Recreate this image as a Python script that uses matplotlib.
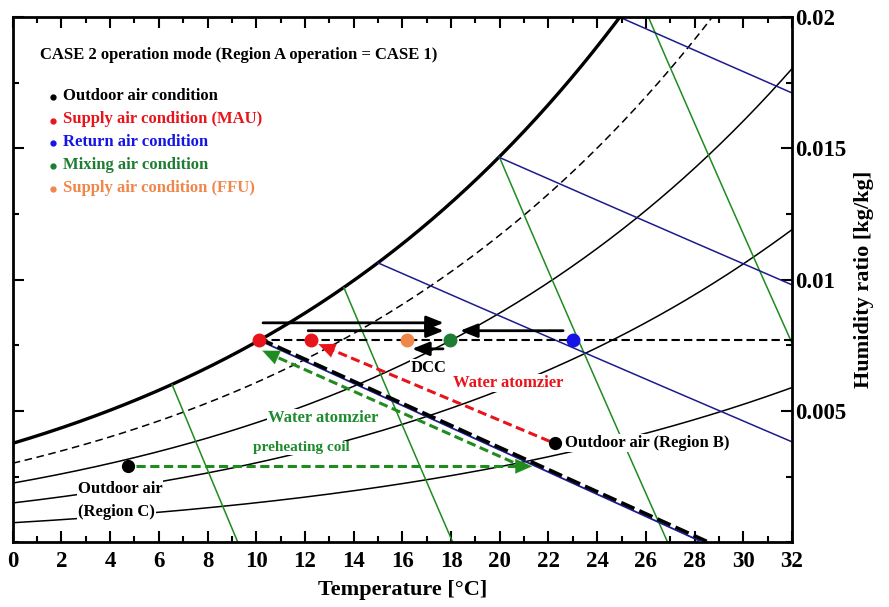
import numpy as np
import matplotlib
matplotlib.use("Agg")
import matplotlib.pyplot as plt

plt.rcParams['font.family'] = ['Liberation Serif', 'DejaVu Serif']
plt.rcParams['font.weight'] = 'bold'
plt.rcParams['mathtext.default'] = 'regular'

# ---- chart data ----------------------------------------------------------
P_ATM = 101325.0
RH_CURVES = [1.0, 0.8, 0.6, 0.4, 0.2]             # relative humidity
ENTHALPY_LINES = [42.0, 57.3, 76.0]               # kJ/kg dry air
VOLUME_LINES = [0.80, 0.825, 0.85, 0.875]         # m3/kg dry air

# lowest enthalpy line and the process line running along it
H_LINE_T = [10.13, 28.35]
H_LINE_W = [0.00769, 0.0]
PROC_LINE_T = [10.13, 28.6]
PROC_LINE_W = [0.00776, 0.0]

# state points
SUPPLY_MAU_T = [10.13, 12.25]
SUPPLY_MAU_W = [0.00769, 0.00769]
FFU_T, FFU_W = 16.2, 0.00769
MIX_T, MIX_W = 17.96, 0.00769
RETURN_T, RETURN_W = 23.0, 0.00769
OUT_B_T, OUT_B_W = 22.27, 0.00377
OUT_C_T, OUT_C_W = 4.74, 0.00290

# process arrows (start T, start W, end T, end W)
BLACK_ARROWS = [
    (10.28, 0.00836, 17.70, 0.00836),
    (12.13, 0.00806, 17.70, 0.00806),
    (22.60, 0.00806, 18.37, 0.00806),
    (17.67, 0.00737, 16.40, 0.00737),
]
RED_ARROW = (22.05, 0.00385, 12.55, 0.00755)
GREEN_DIAG_ARROW = (20.55, 0.00305, 10.25, 0.00730)
GREEN_HORIZ_ARROW = (5.05, 0.00290, 21.33, 0.00290)

LEGEND_LABELS = ["Outdoor air condition", "Supply air condition (MAU)",
                 "Return air condition", "Mixing air condition",
                 "Supply air condition (FFU)"]
LEGEND_COLORS = ["black", "#e8141b", "#1414e6", "#1e7d32", "#f0874a"]

X_TICKS = list(range(0, 33, 2))
Y_TICKS = [0.005, 0.01, 0.015, 0.02]
Y_TICK_LABELS = ["0.005", "0.01", "0.015", "0.02"]

RED = "#e8141b"
GREEN_TXT = "#1e8c2e"
GREEN_LINE = "#1e8c1e"
BLUE_LINE = "#1c1c8c"


def p_ws(t):
    T = np.asarray(t) + 273.15
    c8, c9, c10 = -5.8002206e3, 1.3914993, -4.8640239e-2
    c11, c12, c13 = 4.1764768e-5, -1.4452093e-8, 6.5459673
    return np.exp(c8 / T + c9 + c10 * T + c11 * T**2 + c12 * T**3 + c13 * np.log(T))


def w_rh(t, phi):
    pw = phi * p_ws(t)
    return 0.621945 * pw / (P_ATM - pw)


fig = plt.figure(figsize=(8.89, 6.07), dpi=100)
ax = fig.add_axes([0.0143, 0.1063, 0.8766, 0.8657])
ax.set_xlim(0, 32)
ax.set_ylim(0, 0.02)

t = np.linspace(0, 40, 6000)
wsat = w_rh(t, 1.0)

# relative humidity curves
for phi in RH_CURVES:
    if phi == 1.0:
        ax.plot(t, w_rh(t, phi), color='black', lw=2.4, zorder=2)
    elif phi == 0.8:
        ax.plot(t, w_rh(t, phi), color='black', lw=1.1, ls=(0, (5, 3)), zorder=2)
    else:
        ax.plot(t, w_rh(t, phi), color='black', lw=1.1, zorder=2)

# constant specific volume lines
for v in VOLUME_LINES:
    w = (v * 101.325 / (0.287042 * (t + 273.15)) - 1) / 1.607858
    m = (w <= wsat) & (w >= 0)
    ax.plot(t[m], w[m], color=GREEN_LINE, lw=1.1, zorder=2)

# constant enthalpy lines
for h in ENTHALPY_LINES:
    w = (h - 1.006 * t) / (2501 + 1.86 * t)
    m = (w <= wsat) & (w >= 0)
    ax.plot(t[m], w[m], color=BLUE_LINE, lw=1.1, zorder=2)
ax.plot(H_LINE_T, H_LINE_W, color=BLUE_LINE, lw=1.3, zorder=3)

# process lines
ax.plot(PROC_LINE_T, PROC_LINE_W, color='black', lw=2.6, ls=(0, (4, 1.5)), zorder=3)
ax.plot([SUPPLY_MAU_T[0], 32], [SUPPLY_MAU_W[0], SUPPLY_MAU_W[0]], color='black',
        lw=1.5, ls=(0, (4, 2)), zorder=3)

for (x0, y0, x1, y1) in BLACK_ARROWS:
    ax.annotate("", xy=(x1, y1), xytext=(x0, y0),
                arrowprops=dict(arrowstyle='-|>,head_length=0.8,head_width=0.32',
                                color='black', lw=2.0, shrinkA=0, shrinkB=0,
                                mutation_scale=13),
                zorder=5)


def dashed_arrow(spec, color):
    x0, y0, x1, y1 = spec
    fx = x0 + (x1 - x0) * 0.96
    fy = y0 + (y1 - y0) * 0.96
    ax.plot([x0, fx], [y0, fy], color=color, lw=2.2, ls=(0, (3, 1.5)), zorder=4)
    ax.annotate("", xy=(x1, y1), xytext=(x0 + (x1 - x0) * 0.85, y0 + (y1 - y0) * 0.85),
                arrowprops=dict(arrowstyle='-|>,head_length=0.8,head_width=0.35',
                                color=color, lw=0.1, shrinkA=0, shrinkB=0,
                                mutation_scale=15),
                zorder=4)


dashed_arrow(RED_ARROW, RED)
dashed_arrow(GREEN_DIAG_ARROW, GREEN_LINE)
dashed_arrow(GREEN_HORIZ_ARROW, GREEN_LINE)

# state points
ax.plot(SUPPLY_MAU_T, SUPPLY_MAU_W, 'o', color=RED, ms=9, zorder=6)
ax.plot(FFU_T, FFU_W, 'o', color="#f0874a", ms=9, zorder=6)
ax.plot(MIX_T, MIX_W, 'o', color="#1e7d32", ms=9, zorder=6)
ax.plot(RETURN_T, RETURN_W, 'o', color="#1414e6", ms=9, zorder=6)
ax.plot(OUT_B_T, OUT_B_W, 'o', color='black', ms=8.5, zorder=6)
ax.plot(OUT_C_T, OUT_C_W, 'o', color='black', ms=8.5, zorder=6)

box = dict(facecolor='white', edgecolor='none', pad=0.6)
ax.text(17.07, 0.00665, "DCC", color='black', fontsize=12, ha='center', va='center',
        bbox=box, zorder=4.5)
ax.text(20.34, 0.00608, "Water atomzier", color=RED, fontsize=12, ha='center', va='center',
        bbox=box, zorder=4.5)
ax.text(12.74, 0.00474, "Water atomzier", color=GREEN_TXT, fontsize=12, ha='center',
        va='center', bbox=box, zorder=4.5)
ax.text(11.86, 0.00360, "preheating coil", color=GREEN_TXT, fontsize=11, ha='center',
        va='center', bbox=box, zorder=4.5)
ax.text(22.68, 0.00379, "Outdoor air (Region B)", color='black', fontsize=12,
        ha='left', va='center', bbox=box, zorder=4.5)
ax.text(2.68, 0.00204, "Outdoor air", color='black', fontsize=12, ha='left',
        va='center', bbox=box, zorder=4.5)
ax.text(2.68, 0.00116, "(Region C)", color='black', fontsize=12, ha='left',
        va='center', bbox=box, zorder=4.5)

# legend block
ax.text(1.12, 0.01857, "CASE 2 operation mode (Region A operation = CASE 1)",
        fontsize=12, ha='left', va='center', zorder=7)
leg_w = [0.01700, 0.01610, 0.01526, 0.01438, 0.01350]
for lab, col, yy in zip(LEGEND_LABELS, LEGEND_COLORS, leg_w):
    ax.plot(1.65, yy - 0.00005, 'o', color=col, ms=3.5, zorder=7)
    ax.text(2.08, yy, lab, color=col, fontsize=12, ha='left', va='center', zorder=7)

# axes styling
ax.set_xticks(X_TICKS)
ax.set_xticks(range(0, 33), minor=True)
ax.set_xticklabels([str(v) for v in X_TICKS], fontsize=16.5, fontweight='bold')
ax.set_yticks(Y_TICKS)
ax.set_yticks(np.arange(0, 0.0201, 0.0025), minor=True)
ax.set_yticklabels(Y_TICK_LABELS, fontsize=16.5, fontweight='bold')
ax.tick_params(which='both', direction='in', top=True, bottom=True, left=True,
               right=True, labelleft=False, labelright=True, width=1.5)
ax.tick_params(which='major', length=8, pad=6)
ax.tick_params(which='minor', length=4.5)
ax.tick_params(axis='y', which='major', pad=2)
for s in ax.spines.values():
    s.set_linewidth(2.0)
ax.yaxis.set_label_position('right')
ax.set_xlabel("Temperature [°C]", fontsize=16, fontweight='bold', labelpad=6)
ax.set_ylabel("Humidity ratio [kg/kg]", fontsize=16, fontweight='bold', labelpad=6)

fig.savefig("out.png", dpi=100)
